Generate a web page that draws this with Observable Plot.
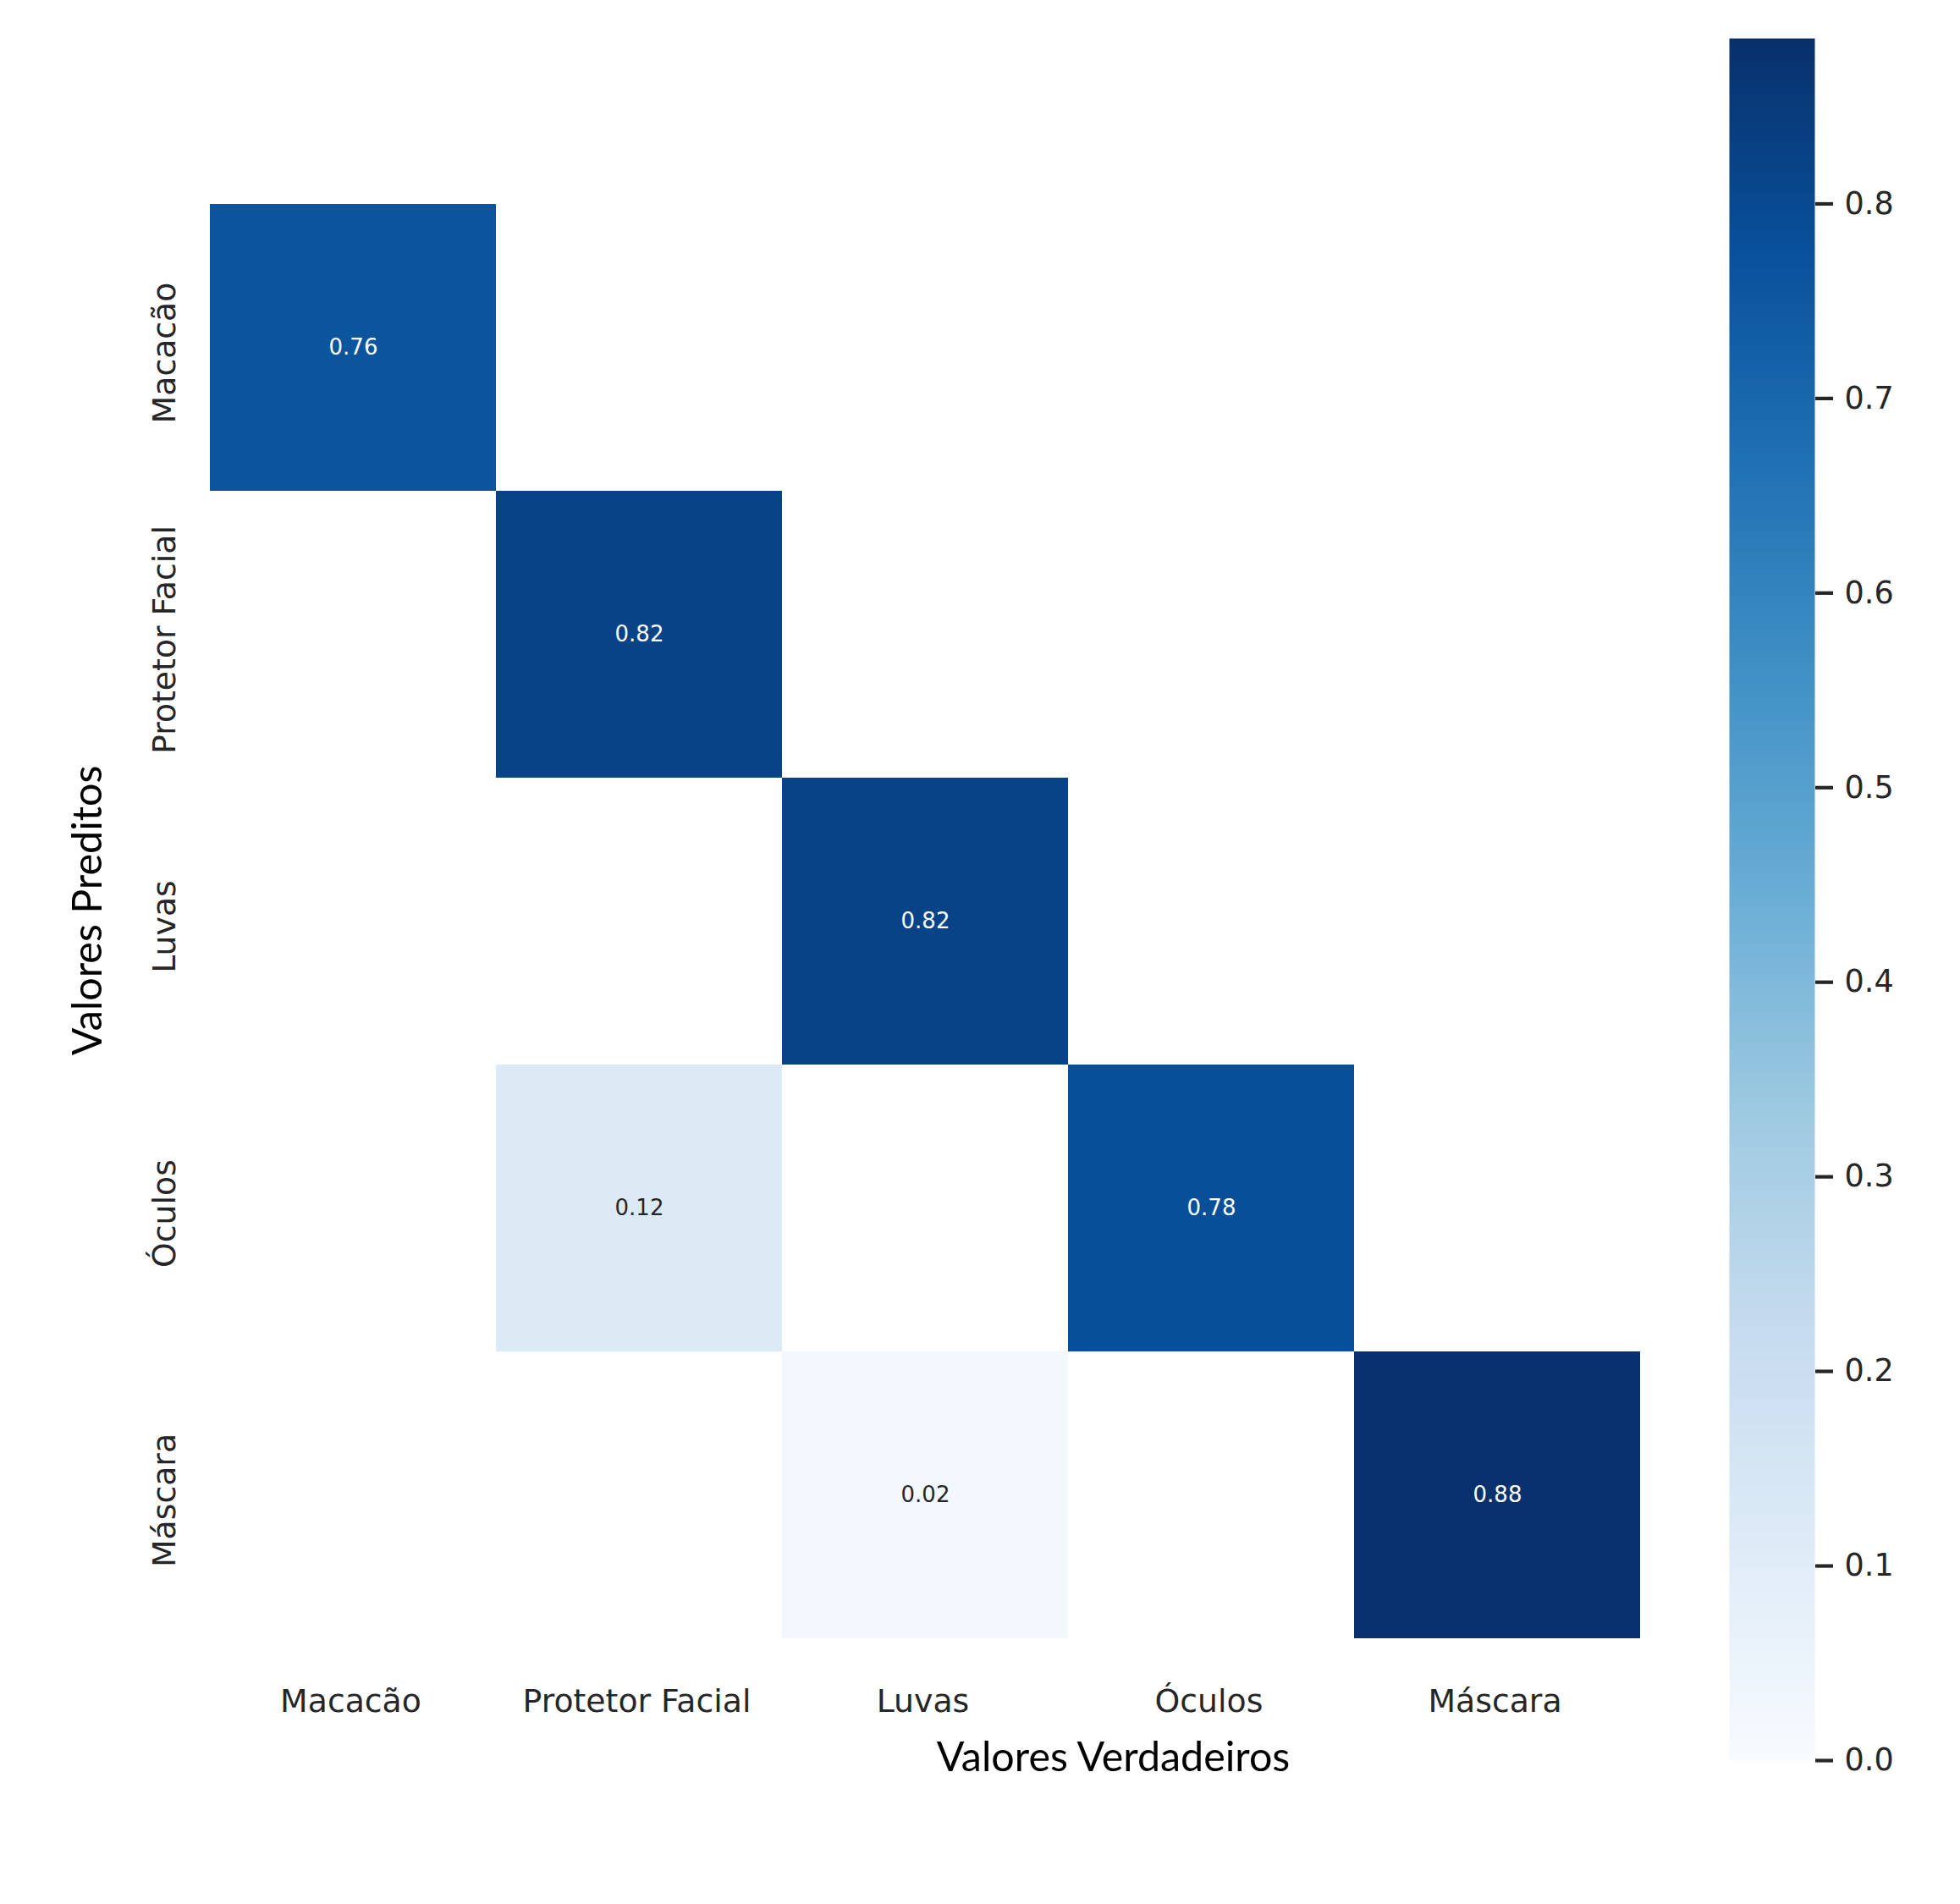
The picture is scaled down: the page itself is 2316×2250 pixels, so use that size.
<!DOCTYPE html>
<html>
<head>
<meta charset="utf-8">
<script src="https://cdn.jsdelivr.net/npm/d3@7"></script>
<script src="https://cdn.jsdelivr.net/npm/@observablehq/plot@0.6"></script>
<style>
  html, body { margin: 0; padding: 0; background: #ffffff; }
  #wrap { position: relative; width: 2316px; height: 2250px; background: #ffffff; }
  #wrap svg { position: absolute; left: 0; top: 0; }
</style>
</head>
<body>
<div id="wrap"></div>
<script>
// ---- data ----
const classes = ["Macacão", "Protetor Facial", "Luvas", "Óculos", "Máscara"];
// non-zero cells of the confusion matrix (zeros are masked / blank)
const trueClass = ["Macacão", "Protetor Facial", "Luvas", "Protetor Facial", "Óculos", "Luvas", "Máscara"];
const predClass = ["Macacão", "Protetor Facial", "Luvas", "Óculos", "Óculos", "Máscara", "Máscara"];
const cellValues = [0.76, 0.82, 0.82, 0.12, 0.78, 0.02, 0.88];
const colorbarTicks = [0.0, 0.1, 0.2, 0.3, 0.4, 0.5, 0.6, 0.7, 0.8];
const colorMax = 0.885; // top of the colour bar
const xTitle = "Valores Verdadeiros";
const yTitle = "Valores Preditos";

// matplotlib "Blues" anchor colours (linear segmented)
const blues9 = ["#f7fbff", "#deebf7", "#c6dbef", "#9ecae1", "#6baed6", "#4292c6", "#2171b5", "#08519c", "#08306b"];
const colorScale = {
  type: "linear",
  domain: blues9.map((_, i) => i * colorMax / (blues9.length - 1)),
  range: blues9,
  interpolate: "rgb",
  clamp: true
};

const cells = cellValues.map((v, i) => ({t: trueClass[i], p: predClass[i], v}));
const fmt = d3.format(".2f");
const W = 2316, H = 2250;
const tickFont = 36.6;
const catFont = 37.8;
const titleFont = 48.4;
const dark = "#262626";

const heat = Plot.plot({
  width: W, height: H,
  marginLeft: 246, marginRight: W - 1939, marginTop: 241, marginBottom: H - 1936,
  style: {fontFamily: "DejaVu Sans", background: "transparent"},
  x: {domain: classes, padding: 0, axis: null},
  y: {domain: classes, padding: 0, axis: null},
  color: colorScale,
  marks: [
    Plot.cell(cells, {x: "t", y: "p", fill: "v", inset: 0}),
    Plot.text(cells.filter(d => d.v >= 0.45), {x: "t", y: "p", text: d => fmt(d.v), fill: "white", fontSize: 26}),
    Plot.text(cells.filter(d => d.v < 0.45), {x: "t", y: "p", text: d => fmt(d.v), fill: dark, fontSize: 26}),
    Plot.text(classes, {x: d => d, frameAnchor: "bottom", dx: -3, dy: 2022 - 1936, textAnchor: "middle", lineAnchor: "bottom", fontSize: catFont, fill: dark}),
    Plot.text(classes, {y: d => d, frameAnchor: "left", rotate: -90, dx: -40, dy: 6, textAnchor: "middle", lineAnchor: "bottom", fontSize: catFont, fill: dark}),
    Plot.text([xTitle], {frameAnchor: "bottom", dx: 1315 - 1092.5, dy: 2092 - 1936, textAnchor: "middle", lineAnchor: "bottom", fontFamily: "Lato", fontSize: titleFont, fill: "black"}),
    Plot.text([yTitle], {frameAnchor: "left", rotate: -90, dx: 119 - 246, dy: -13, textAnchor: "middle", lineAnchor: "bottom", fontFamily: "Lato", fontSize: titleFont, fill: "black"})
  ]
});

const bar = Plot.plot({
  width: W, height: H,
  marginLeft: 2043, marginRight: W - 2144, marginTop: 45, marginBottom: H - 2080,
  style: {fontFamily: "DejaVu Sans", background: "transparent"},
  x: {domain: [0, 1], axis: null},
  y: {domain: [0, colorMax], axis: null},
  color: colorScale,
  marks: [
    Plot.raster({x1: 0, x2: 1, y1: 0, y2: colorMax, width: 1, height: 1200, fill: (x, y) => y}),
    Plot.axisY({anchor: "right", ticks: colorbarTicks, tickSize: 21, tickPadding: 14, tickFormat: d => d.toFixed(1), fontSize: tickFont, color: dark, strokeWidth: 4.2, label: null})
  ]
});

const wrap = document.getElementById("wrap");
wrap.appendChild(heat);
wrap.appendChild(bar);
</script>
</body>
</html>
